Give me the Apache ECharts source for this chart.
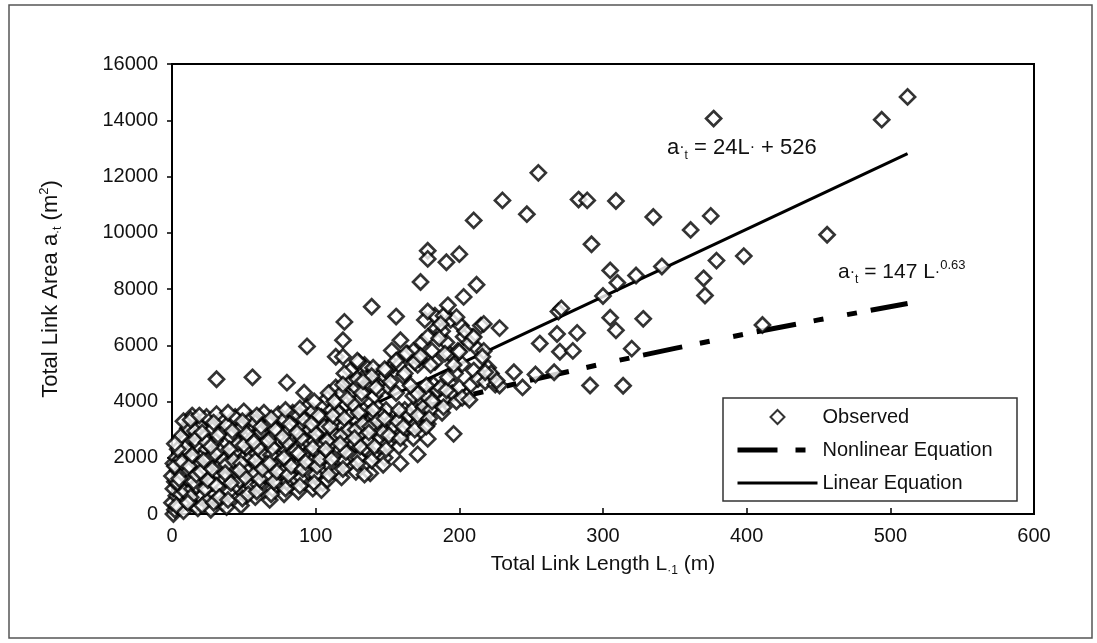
<!DOCTYPE html>
<html>
<head>
<meta charset="utf-8">
<script src="https://cdn.jsdelivr.net/npm/echarts@6/dist/echarts.min.js"></script>
<style>html,body{margin:0;padding:0;background:#fff;}#c{width:1097px;height:643px;}</style>
</head>
<body>
<div id="c"></div>
<script>
// ---- data ----
const xTicks = [0, 100, 200, 300, 400, 500, 600];
const yTicks = [0, 2000, 4000, 6000, 8000, 10000, 12000, 14000, 16000];

// scattered / outlying observations
const observedOuter = [
  [512,14830],[494,14020],[377,14060],[255,12130],[230,11150],[283,11180],[289,11150],[309,11130],
  [247,10660],[210,10440],[335,10560],[375,10600],[361,10100],[456,9930],[292,9590],[398,9170],
  [379,9010],[341,8800],[323,8480],[305,8660],[310,8220],[370,8380],[371,7770],[300,7750],
  [411,6720],[328,6940],[305,6980],[309,6530],[320,5880],[314,4560],[291,4570],[269,7200],
  [271,7310],[268,6400],[282,6440],[270,5770],[279,5800],[256,6060],[253,4960],[266,5040],
  [244,4500],[228,4570],[226,4740],[238,5040],[218,5040],[228,6610],[217,6760],[212,8150],
  [203,7720],[200,9240],[191,8950],[178,9360],[178,9070],[173,8250],[196,2850],[156,7020],
  [139,7370],[94,5960],[120,6830],[119,6180],[114,5590],[119,5590],[159,6180],[163,5710],
  [153,5810],[169,5400],[173,5620],[178,7200],[189,7050],[192,7420],[187,6760],[186,6250],
  [204,6500],[207,6100],[210,6290],[202,5330],[216,5590],[200,5770],[196,5300],[192,4860],
  [177,4570],[171,4280],[166,4570],[156,5450],[148,5150],[133,4720],[129,5450],[31,4790],
  [56,4860],[80,4670],[92,4310],[147,1750],[159,1800],[171,2120],[178,2670],[177,3110],
  [202,4130],[207,4060],[134,1400],[104,850]
];

// dense cluster of short links
const observedCluster = [
  [1,0],[2,150],[0,400],[3,650],[1,900],[2,1150],[0,1350],[4,1550],[1,1800],[3,2000],[5,250],[6,700],[4,1100],[7,1450],[2,1700],[6,1950],
  [8,100],[10,450],[9,800],[12,1200],[11,1600],[8,2200],[13,2500],[10,2800],[12,3200],[14,3500],[15,1900],[14,900],[16,300],[9,2600],[11,3050],
  [18,200],[20,600],[17,1000],[22,1350],[19,1750],[21,2100],[18,2450],[23,2750],[20,3100],[24,3450],[25,500],[23,1550],[24,2300],[16,2950],[19,1300],
  [27,150],[30,700],[28,1100],[32,1450],[29,1900],[33,2250],[30,2600],[28,3000],[34,3350],[31,3550],[35,400],[26,2000],[33,1700],[35,2900],
  [38,250],[40,800],[37,1250],[42,1600],[39,2050],[43,2400],[41,2750],[38,3150],[44,3450],[45,1000],[36,1900],[44,2200],
  [48,300],[50,750],[47,1200],[52,1550],[49,1950],[53,2300],[51,2650],[48,3050],[54,3400],[50,3650],[55,1000],[46,2500],[55,2000],
  [58,600],[60,1050],[57,1400],[62,1800],[59,2150],[63,2500],[61,2900],[58,3250],[64,3600],[65,1350],[56,2700],[64,2100],
  [68,500],[70,900],[67,1350],[72,1700],[69,2100],[73,2450],[71,2800],[68,3200],[74,3550],[75,1100],[66,1800],[74,2950],
  [78,700],[80,1150],[77,1500],[82,1900],[79,2300],[83,2650],[81,3000],[78,3350],[84,3600],[85,1300],[76,2600],[84,2200],
  [88,800],[90,1300],[87,1700],[92,2050],[89,2450],[93,2800],[91,3150],[88,3500],[94,3800],[95,1500],[86,2250],[94,2600],
  [98,900],[100,1400],[97,1850],[102,2200],[99,2600],[103,2950],[101,3300],[98,3650],[104,3450],[105,1100],[96,3000],[104,2400],
  [108,1200],[110,1700],[107,2100],[112,2500],[109,2900],[113,3300],[111,3700],[108,4100],[114,4500],[115,1500],[106,3100],[114,2800],
  [118,1300],[120,1900],[117,2300],[122,2700],[119,3100],[123,3500],[121,3900],[118,4300],[124,4700],[125,2100],[116,3600],[124,5100],[120,5000],
  [128,1500],[130,2000],[127,2500],[132,2900],[129,3300],[133,3700],[131,4100],[128,4500],[134,4900],[135,2300],[126,3900],[134,5300],[130,5400],
  [138,1450],[140,2100],[137,2600],[142,3000],[139,3400],[143,3800],[141,4200],[138,4600],[144,5000],[145,2700],[136,3200],[144,4400],[140,5200],
  [148,2000],[150,2500],[147,2900],[152,3300],[149,3700],[151,4500],[148,4900],[154,5300],[155,3100],[146,3500],
  [158,2400],[160,2900],[157,3300],[162,3700],[161,4900],[158,5300],[164,5700],[165,3500],[156,4300],
  [168,2700],[170,3200],[167,3700],[172,4100],[171,5300],[168,5800],[174,6100],[175,3800],
  [178,3200],[180,3700],[177,4200],[182,4600],[183,5400],[181,5800],[178,6300],[184,6600],[185,4400],[176,6900],[183,7050],
  [188,3600],[190,4100],[187,4500],[193,5700],[191,6100],[188,6500],[194,6900],[195,4300],
  [198,4000],[200,4500],[197,5000],[199,5800],[203,6300],[201,6700],[198,7000],[205,4200],
  [208,4600],[210,5100],[212,5900],[209,6300],[213,4800],[215,6700],
  [218,4700],[220,5200],[217,5800],[222,5000],[225,4600]
];

// second, interleaved layer of the dense cluster
const observedCore = [
  [3,300],[5,1250],[7,1850],[9,2350],[6,2750],[8,3300],[4,2300],[2,2500],
  [13,600],[15,1150],[12,1700],[14,2100],[16,2650],[13,3350],[17,1400],[11,400],
  [21,300],[23,900],[20,1500],[22,1900],[24,2550],[21,2900],[19,3500],[25,1200],
  [29,400],[31,1000],[28,1600],[30,2150],[32,2800],[29,3250],[27,2400],[33,600],
  [39,500],[41,1100],[38,1750],[40,2300],[42,2950],[39,3600],[37,1450],[43,1900],
  [49,550],[51,1300],[48,1800],[50,2450],[52,2850],[49,3300],[47,1550],[53,700],
  [59,800],[61,1250],[58,1900],[60,2350],[62,3100],[59,3500],[57,2550],[63,1600],
  [69,700],[71,1150],[68,1800],[70,2350],[72,3000],[69,3400],[67,2600],[73,1500],
  [79,900],[81,1400],[78,2000],[80,2550],[82,3200],[79,3700],[77,2750],[83,1700],
  [89,1000],[91,1600],[88,2150],[90,2700],[92,3350],[89,3750],[87,2900],[93,1850],
  [99,1100],[101,1700],[98,2350],[100,2850],[102,3500],[99,4000],[97,3200],[103,1950],
  [109,1400],[111,1950],[108,2600],[110,3100],[112,3500],[109,4300],[107,2300],[113,4000],
  [119,1600],[121,2200],[118,2800],[120,3400],[122,4100],[119,4600],[117,2500],[123,3000],
  [129,1800],[131,2400],[128,3000],[130,3600],[132,4300],[129,4800],[127,2700],[133,3200],
  [139,1900],[141,2400],[138,3100],[140,3700],[142,4500],[139,4900],[137,2900],[143,3300],
  [149,2300],[151,2800],[148,3400],[152,4700],[149,5100],
  [159,2700],[161,3100],[158,3700],[162,5000],
  [169,3000],[171,3500],[168,4200],[172,5500],
  [179,3400],[181,4000],[180,5300],
  [189,3800],[191,4400],[190,5700]
];

// fitted curves as drawn
const linearFit = [[0,526],[512,12814]];
const nonlinearFit = [[0,0],[5,405],[20,970],[50,1729],[100,2675],[150,3454],[200,4140],[250,4763],[300,5344],[350,5888],[400,6411],[450,6901],[512,7483]];

const FONT = "'Liberation Sans', Arial, Helvetica, sans-serif";
const INK = '#000';
const plain = v => String(v);

const eqRich = {
  m: {fontSize: 22, fontFamily: FONT, fill: '#111', lineHeight: 27},
  d: {fontSize: 16, fontFamily: FONT, fill: '#111', lineHeight: 16, verticalAlign: 'middle'},
  s: {fontSize: 12, fontFamily: FONT, fill: '#111', lineHeight: 12, verticalAlign: 'bottom'},
  p: {fontSize: 13, fontFamily: FONT, fill: '#111', lineHeight: 13, verticalAlign: 'top'}
};

const chart = echarts.init(document.getElementById('c'), null, {renderer: 'canvas'});
chart.setOption({
  animation: false,
  backgroundColor: '#fff',
  grid: {left: 172, top: 64, right: 63, bottom: 129, show: true, borderColor: INK, borderWidth: 2, backgroundColor: 'transparent'},
  xAxis: {
    type: 'value', min: xTicks[0], max: xTicks[xTicks.length-1], interval: 100,
    name: '{n|Total Link Length L}{s|·1}{n| (m)}',
    nameLocation: 'middle', nameGap: 37,
    nameTextStyle: {rich: {
      n: {fontSize: 21, fontFamily: FONT, color: '#111', lineHeight: 26},
      s: {fontSize: 12, fontFamily: FONT, color: '#111', lineHeight: 12, verticalAlign: 'bottom'}
    }},
    axisLine: {show: true, lineStyle: {color: INK, width: 2}},
    axisTick: {show: true, inside: true, length: 6, lineStyle: {color: INK, width: 1.5}},
    axisLabel: {fontSize: 20, fontFamily: FONT, color: '#111', margin: 12, formatter: plain},
    splitLine: {show: false}
  },
  yAxis: {
    type: 'value', min: yTicks[0], max: yTicks[yTicks.length-1], interval: 2000,
    name: '{n|Total Link Area a}{s|·t}{n| (m}{p|2}{n|)}',
    nameLocation: 'middle', nameGap: 108, nameRotate: 90,
    nameTextStyle: {rich: {
      n: {fontSize: 22, fontFamily: FONT, color: '#111', lineHeight: 26},
      s: {fontSize: 12, fontFamily: FONT, color: '#111', lineHeight: 12, verticalAlign: 'bottom'},
      p: {fontSize: 13, fontFamily: FONT, color: '#111', lineHeight: 13, verticalAlign: 'top'}
    }},
    axisLine: {show: true, lineStyle: {color: INK, width: 2}},
    axisTick: {show: true, inside: false, length: 5, lineStyle: {color: INK, width: 1.5}},
    axisLabel: {fontSize: 20, fontFamily: FONT, color: '#111', margin: 14, formatter: plain},
    splitLine: {show: false}
  },
  legend: {
    orient: 'vertical', left: 735, top: 407, z: 10, padding: 0,
    itemWidth: 80, itemHeight: 14, itemGap: 13,
    textStyle: {fontSize: 20, fontFamily: FONT, color: '#111'},
    data: [
      {name: 'Observed', icon: 'path://M0,-10L10,0L0,10L-10,0Z'},
      {name: 'Nonlinear Equation', itemStyle: {opacity: 0}, lineStyle: {width: 5, dashOffset: 0}},
      {name: 'Linear Equation', itemStyle: {opacity: 0}, lineStyle: {width: 3}}
    ],
    selectedMode: false
  },
  graphic: [
    {type: 'rect', z: -10, shape: {x: 9, y: 5, width: 1083, height: 633}, style: {fill: 'none', stroke: '#555', lineWidth: 1.5}},
    {type: 'rect', z: 5, shape: {x: 723, y: 398, width: 294, height: 103}, style: {fill: '#fff', stroke: '#333', lineWidth: 1.5}},
    {type: 'text', z: 5, left: 667, top: 137, style: {
      text: '{m|a}{d|·}{s|t}{m| = 24L}{d|·}{m| + 526}',
      rich: eqRich
    }},
    {type: 'text', z: 5, left: 838, top: 259, style: {
      text: '{m|a}{d|·}{s|t}{m| = 147 L}{d|·}{p|0.63}',
      rich: Object.assign({}, eqRich, {m: {fontSize: 21, fontFamily: FONT, fill: '#111', lineHeight: 27}})
    }}
  ],
  series: [
    {
      name: 'Nonlinear Equation', type: 'line', data: nonlinearFit, symbol: 'none', showSymbol: false,
      itemStyle: {color: INK},
      lineStyle: {color: INK, width: 5, type: [40, 18, 10, 24, 10, 14], dashOffset: 77, cap: 'butt'},
      emphasis: {disabled: true}, z: 2
    },
    {
      name: 'Linear Equation', type: 'line', data: linearFit, symbol: 'none', showSymbol: false,
      itemStyle: {color: INK},
      lineStyle: {color: INK, width: 3},
      emphasis: {disabled: true}, z: 2
    },
    {
      name: 'Observed', type: 'scatter', symbol: 'diamond', symbolSize: 15,
      data: observedCluster.concat(observedCore, observedOuter),
      itemStyle: {color: '#fff', borderColor: INK, borderWidth: 2.7},
      emphasis: {disabled: true}, z: 4
    }
  ]
});
</script>
</body>
</html>
